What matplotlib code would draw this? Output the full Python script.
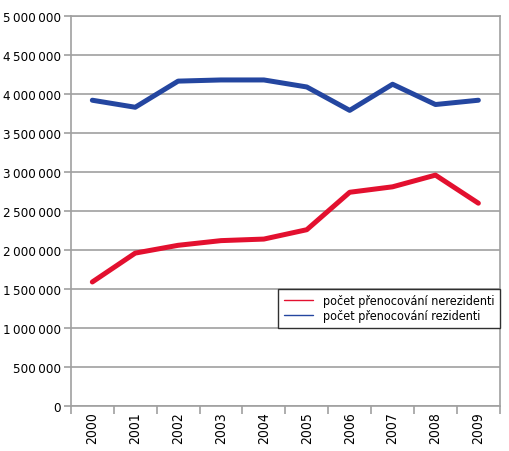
import numpy as np
import matplotlib.pyplot as plt
from matplotlib.ticker import FuncFormatter, FixedLocator

plt.rcParams['font.family'] = ['DejaVu Sans']
plt.rcParams['font.stretch'] = 'condensed'

years = ['2000', '2001', '2002', '2003', '2004', '2005', '2006', '2007', '2008', '2009']
nerezidenti = [1590000, 1960000, 2060000, 2120000, 2140000, 2260000, 2740000, 2810000, 2960000, 2600000]
rezidenti = [3920000, 3830000, 4165000, 4180000, 4180000, 4090000, 3790000, 4125000, 3865000, 3920000]

fig = plt.figure(figsize=(5.1, 4.52), dpi=100)
ax = fig.add_axes([0.139, 0.0996, 0.841, 0.8628])

x = np.arange(len(years))
ax.plot(x, nerezidenti, color='#e3102f', lw=3.6, solid_capstyle='round',
        label='počet přenocování nerezidenti')
ax.plot(x, rezidenti, color='#2446a0', lw=3.6, solid_capstyle='round',
        label='počet přenocování rezidenti')

ax.set_xlim(-0.5, len(years) - 0.5)
ax.set_ylim(0, 5000000)
ax.set_yticks(np.arange(0, 5000001, 500000))
ax.yaxis.set_major_formatter(FuncFormatter(lambda v, p: f'{int(v):,}'.replace(',', '\u2009')))
ax.grid(axis='y', color='#a0a0a0', lw=1.2)
ax.set_axisbelow(True)

ax.xaxis.set_major_locator(FixedLocator(np.arange(-0.5, len(years), 1.0)))
ax.xaxis.set_major_formatter(FuncFormatter(lambda v, p: ''))
ax.xaxis.set_minor_locator(FixedLocator(x))
ax.set_xticklabels(years, minor=True, rotation=90)
ax.tick_params(axis='x', which='minor', length=0, labelsize=10, pad=4)
ax.tick_params(axis='x', which='major', length=6, color='#a0a0a0', width=1.2)
ax.tick_params(axis='y', length=5, color='#a0a0a0', width=1.2, labelsize=9.6, pad=2.2)

for s in ax.spines.values():
    s.set_color('#a0a0a0')
    s.set_linewidth(1.2)

leg = ax.legend(loc='lower right', bbox_to_anchor=(1.0, 0.2), fontsize=9,
                frameon=True, fancybox=False, borderpad=0.45, handlelength=2.3,
                labelspacing=0.15, borderaxespad=0, framealpha=1)
leg.get_frame().set_edgecolor('#303030')
leg.get_frame().set_linewidth(1.0)
for h in leg.get_lines():
    h.set_linewidth(1.0)

fig.savefig('out.png', dpi=100)
